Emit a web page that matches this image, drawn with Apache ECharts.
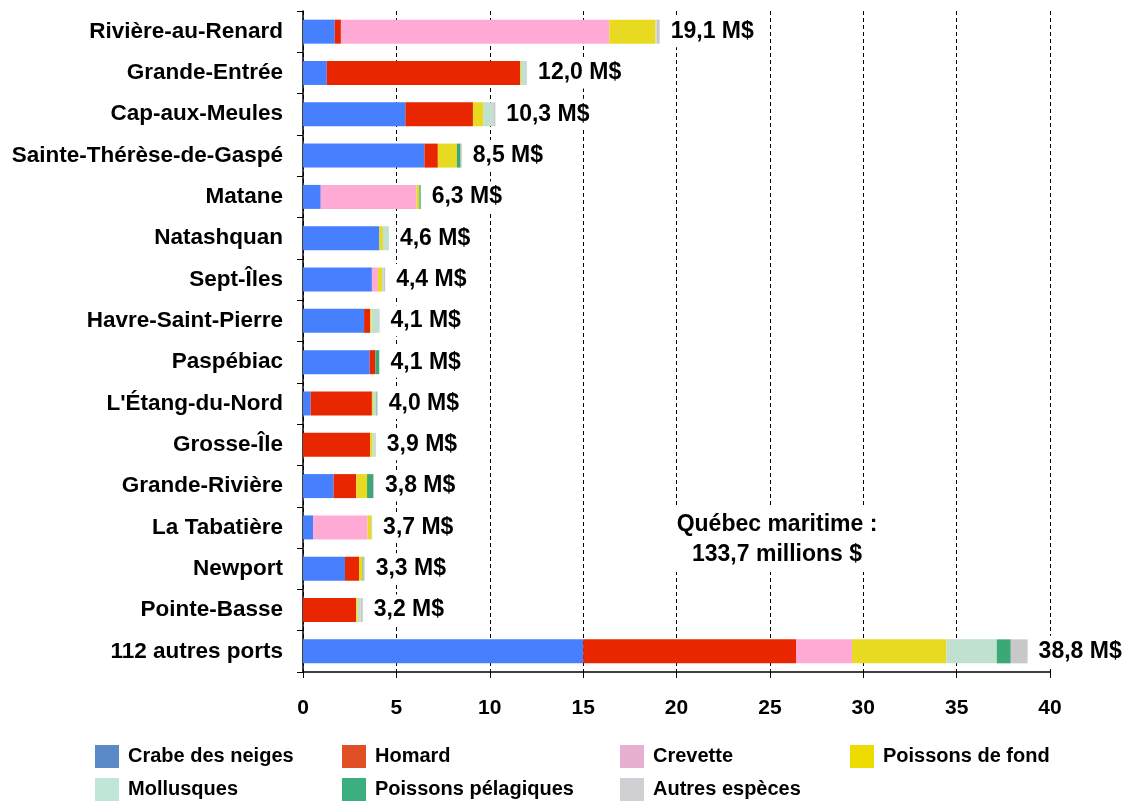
<!DOCTYPE html>
<html>
<head>
    <meta charset="UTF-8">
    <title>Ports de débarquement</title>
    <script src="https://cdn.jsdelivr.net/npm/echarts@6/dist/echarts.min.js"></script>
    <style>
        body { margin: 0; background: #fff; }
    </style>
</head>
<body>
    <div id="main" style="width: 1135px;height:803px;"></div>
    <script type="text/javascript">
        // ports, du haut vers le bas
        var ports = ['Rivière-au-Renard', 'Grande-Entrée', 'Cap-aux-Meules', 'Sainte-Thérèse-de-Gaspé', 'Matane',
            'Natashquan', 'Sept-Îles', 'Havre-Saint-Pierre', 'Paspébiac', "L'Étang-du-Nord", 'Grosse-Île',
            'Grande-Rivière', 'La Tabatière', 'Newport', 'Pointe-Basse', '112 autres ports'];

        // valeurs par espèce (M$)
        var crabe      = [1.70, 1.27, 5.48, 6.50, 0.95, 4.09, 3.69, 3.27, 3.57, 0.41, 0,    1.64, 0.54, 2.25, 0,    15.0];
        var homard     = [0.33, 10.35, 3.62, 0.72, 0,   0,    0,    0.32, 0.30, 3.28, 3.60, 1.21, 0,    0.75, 2.85, 11.4];
        var crevette   = [14.37, 0,   0,    0,    5.13, 0,    0.32, 0,    0,    0,    0,    0,    2.92, 0,    0,    3.0];
        var fond       = [2.48, 0.05, 0.55, 1.02, 0.15, 0.19, 0.22, 0.07, 0,    0.06, 0.13, 0.58, 0.20, 0.19, 0.08, 5.05];
        var mollusques = [0.05, 0.30, 0.54, 0,    0,    0.32, 0.07, 0.40, 0,    0.17, 0.14, 0,    0,    0,    0.16, 2.7];
        var pelagiques = [0,    0,    0,    0.20, 0.07, 0,    0,    0,    0.20, 0.03, 0,    0.32, 0,    0.05, 0,    0.75];
        var autres     = [0.17, 0.03, 0.11, 0.06, 0,    0,    0.10, 0.04, 0.03, 0.05, 0.03, 0.05, 0.04, 0.06, 0.11, 0.9];

        // totaux affichés
        var totaux = [19.1, 12.0, 10.3, 8.5, 6.3, 4.6, 4.4, 4.1, 4.1, 4.0, 3.9, 3.8, 3.7, 3.3, 3.2, 38.8];

        var xTicks = [0, 5, 10, 15, 20, 25, 30, 35, 40];

        var especes = [
            { name: 'Crabe des neiges', data: crabe, color: '#4680ff', legend: '#5b8ac8' },
            { name: 'Homard', data: homard, color: '#e82600', legend: '#e04f25' },
            { name: 'Crevette', data: crevette, color: '#ffaad4', legend: '#e8b0d0' },
            { name: 'Poissons de fond', data: fond, color: '#e8da20', legend: '#eedc00' },
            { name: 'Mollusques', data: mollusques, color: '#c0e0d0', legend: '#c0e6d8' },
            { name: 'Poissons pélagiques', data: pelagiques, color: '#3ca878', legend: '#3caf80' },
            { name: 'Autres espèces', data: autres, color: '#c8c8c8', legend: '#d0d0d4' }
        ];

        var myChart = echarts.init(document.getElementById('main'));

        var police = 'Liberation Sans, Arial, sans-serif';

        var series = especes.map(function (e) {
            return {
                name: e.name,
                type: 'bar',
                stack: 'total',
                barWidth: 24,
                data: e.data,
                itemStyle: { color: e.color },
                emphasis: { disabled: true }
            };
        });

        // étiquettes de total
        series.push({
            name: 'total',
            type: 'scatter',
            data: totaux,
            symbol: 'circle',
            symbolSize: 2,
            itemStyle: { color: 'rgba(255,255,255,0)' },
            emphasis: { disabled: true },
            z: 5,
            label: {
                show: true,
                position: 'right',
                distance: 7,
                color: '#000000',
                opacity: 1,
                textBorderWidth: 0,
                fontFamily: police,
                fontWeight: 'bold',
                fontSize: 23,
                backgroundColor: '#fff',
                padding: [5, 3, 3, 3],
                formatter: function (p) {
                    return p.value.toFixed(1).replace('.', ',') + ' M$';
                }
            }
        });

        // légende en 4 colonnes
        var colX = [95, 342, 620, 850];
        var rowY = [745, 778];
        var legends = especes.map(function (e, i) {
            return {
                left: colX[i % 4],
                top: rowY[Math.floor(i / 4)],
                padding: 0,
                icon: 'rect',
                itemWidth: 24,
                itemHeight: 23,
                selectedMode: false,
                data: [{ name: e.name, itemStyle: { color: e.legend } }],
                textStyle: {
                    fontFamily: police,
                    fontWeight: 'bold',
                    fontSize: 20,
                    color: '#000',
                    padding: [0, 0, 0, 4]
                }
            };
        });

        var option = {
            animation: false,
            backgroundColor: '#fff',
            grid: {
                left: 303,
                right: 85,
                top: 11,
                bottom: 131
            },
            legend: legends,
            xAxis: {
                type: 'value',
                min: xTicks[0],
                max: xTicks[xTicks.length - 1],
                interval: 5,
                axisLine: { show: true, lineStyle: { color: '#000', width: 1.5 } },
                axisTick: { show: true, length: 6, lineStyle: { color: '#000' } },
                axisLabel: {
                    color: '#000',
                    fontFamily: police,
                    fontWeight: 'bold',
                    fontSize: 21,
                    margin: 26
                },
                splitLine: {
                    show: true,
                    lineStyle: { color: '#000', type: [4, 3], width: 1 }
                }
            },
            yAxis: {
                type: 'category',
                data: ports,
                inverse: true,
                axisLine: { show: true, lineStyle: { color: '#000', width: 1.5 } },
                axisTick: { show: true, length: 6, lineStyle: { color: '#000' } },
                axisLabel: {
                    color: '#000',
                    fontFamily: police,
                    fontWeight: 'bold',
                    fontSize: 22.5,
                    margin: 20
                }
            },
            graphic: [
                {
                    type: 'text',
                    x: 777,
                    y: 508,
                    z: 10,
                    style: {
                        text: 'Québec maritime :\n133,7 millions $',
                        align: 'center',
                        fill: '#000',
                        font: 'bold 23px ' + police,
                        lineHeight: 30,
                        backgroundColor: '#fff',
                        padding: [2, 6]
                    }
                }
            ],
            series: series
        };

        myChart.setOption(option);
    </script>
</body>
</html>
